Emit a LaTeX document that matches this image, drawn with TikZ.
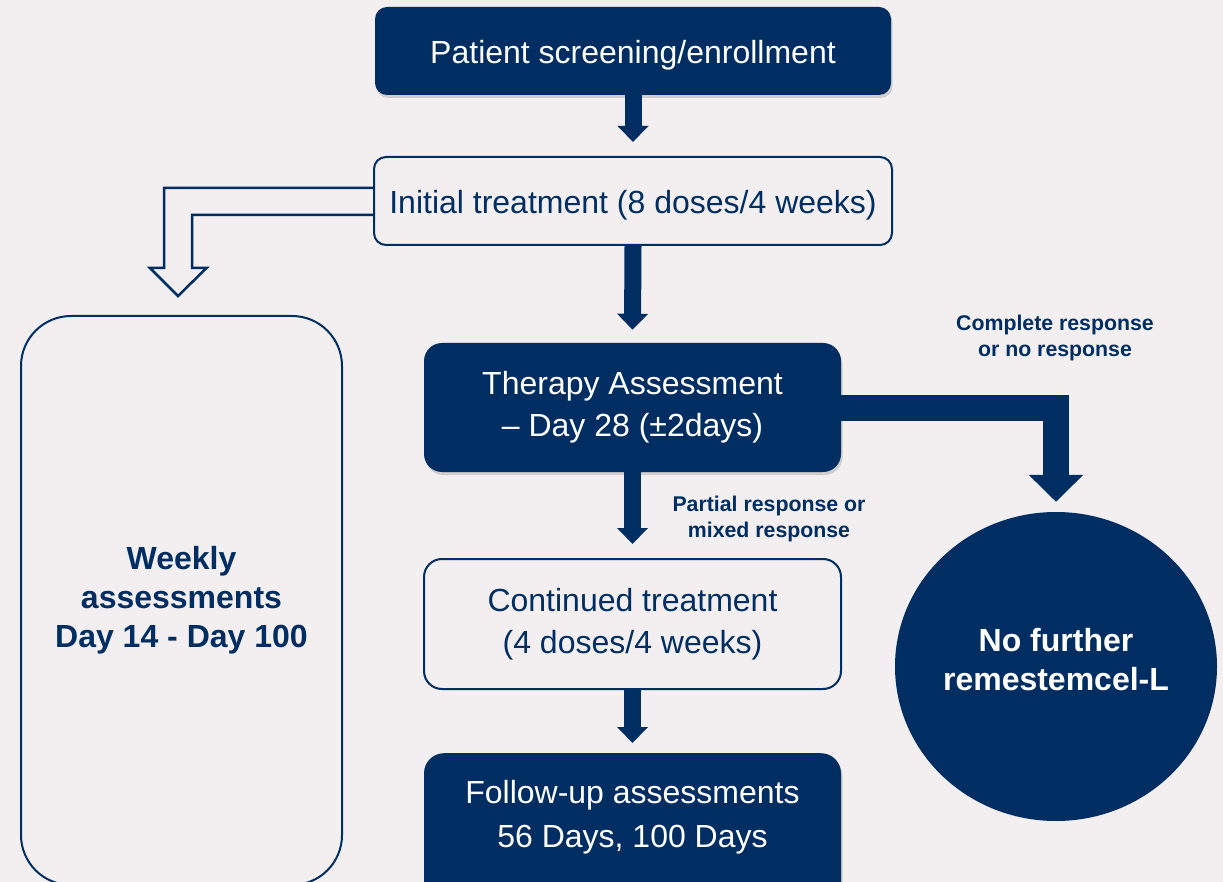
\documentclass[tikz,border=0pt]{standalone}
\usepackage{fontspec}
\setmainfont{Liberation Sans}
\usetikzlibrary{arrows.meta,shapes.geometric,shadows,calc}
\definecolor{navy}{RGB}{0,46,98}
\definecolor{slidebg}{RGB}{243,239,240}

\begin{document}
\begin{tikzpicture}[x=1pt,y=-1pt,
  darkbox/.style={rectangle,rounded corners=14pt,fill=navy,text=white,align=center,inner sep=0pt,
    font=\fontsize{32}{42}\selectfont,
    drop shadow={opacity=0.3,shadow xshift=1.5pt,shadow yshift=-3pt}},
  lightbox/.style={rectangle,rounded corners=12pt,draw=navy,line width=2pt,fill=slidebg,
    text=navy,align=center,inner sep=0pt,font=\fontsize{32}{42}\selectfont},
  oneline/.style={text height=32pt,text depth=6.5pt},
  boldtext/.style={font=\bfseries\fontsize{32}{39}\selectfont},
  blockarrow/.style={draw=navy,line width=17pt,-{Triangle[width=30pt,length=16pt]}},
  note/.style={text=navy,align=center,font=\bfseries\fontsize{21.3}{26}\selectfont}]

\useasboundingbox (0,0) rectangle (1223,882);
\fill[slidebg] (0,0) rectangle (1223,882);

\node[darkbox,oneline,minimum width=516pt,minimum height=88pt,rounded corners=12pt]
    (screening) at (633,51) {Patient screening/enrollment};
\node[lightbox,oneline,minimum width=518pt,minimum height=88pt]
    (initial) at (633,201) {Initial treatment (8 doses/4 weeks)};
\node[darkbox,minimum width=417pt,minimum height=129pt,rounded corners=18pt]
    (therapy) at (632.5,407.5) {Therapy Assessment\\– Day 28 (±2days)};
\node[lightbox,minimum width=417pt,minimum height=130pt,rounded corners=18pt]
    (continued) at (632.5,624) {Continued treatment\\(4 doses/4 weeks)};
\node[darkbox,minimum width=417pt,minimum height=150pt,rounded corners=20pt,anchor=north]
    (followup) at (632.5,753) {};
\node[text=white,align=center,font=\fontsize{32}{44}\selectfont]
    (followuptext) at (632.5,817) {Follow-up assessments\\56 Days, 100 Days};

\node[lightbox,boldtext,rounded corners=50pt,minimum width=321pt,minimum height=569pt]
    (weekly) at (181.5,600.5) {Weekly\\assessments\\Day 14 - Day 100};
\node[ellipse,fill=navy,inner sep=0pt,minimum width=322pt,minimum height=309pt]
    (nofurther) at (1056,666.5) {};
\node[text=white,align=center,boldtext]
    (nofurthertext) at (1056,660) {No further\\remestemcel-L};

\node[note] (completelbl) at (1055,338) {Complete response\\or no response};
\node[note] (partiallbl) at (769,519) {Partial response or\\mixed response};

% main line
\draw[blockarrow] (screening.south) -- ([yshift=14pt]initial.north);
\draw[blockarrow] (initial.south) -- ([yshift=13pt]therapy.north);
\draw[blockarrow] (therapy.south) -- ([yshift=14pt]continued.north);
\draw[blockarrow] (continued.south) -- ([yshift=10pt]followup.north);

% branch to the circle
\draw[navy,line width=26pt,line join=miter,-{Triangle[width=53pt,length=27pt]}]
    (therapy.east) -| ([yshift=10pt]nofurther.north);

% hollow arrow to the weekly box
\coordinate (hollowtip) at ([xshift=-3.5pt,yshift=19pt]weekly.north);
\draw[navy,line width=2.5pt,line join=miter]
    ($(initial.west)+(0,-13)$)
    -| ($(hollowtip)+(-14,-28)$)
    -- ++(-14,0)
    -- (hollowtip)
    -- ++(28.5,-28)
    -- ++(-14.5,0)
    |- ($(initial.west)+(0,14)$);
\end{tikzpicture}
\end{document}
